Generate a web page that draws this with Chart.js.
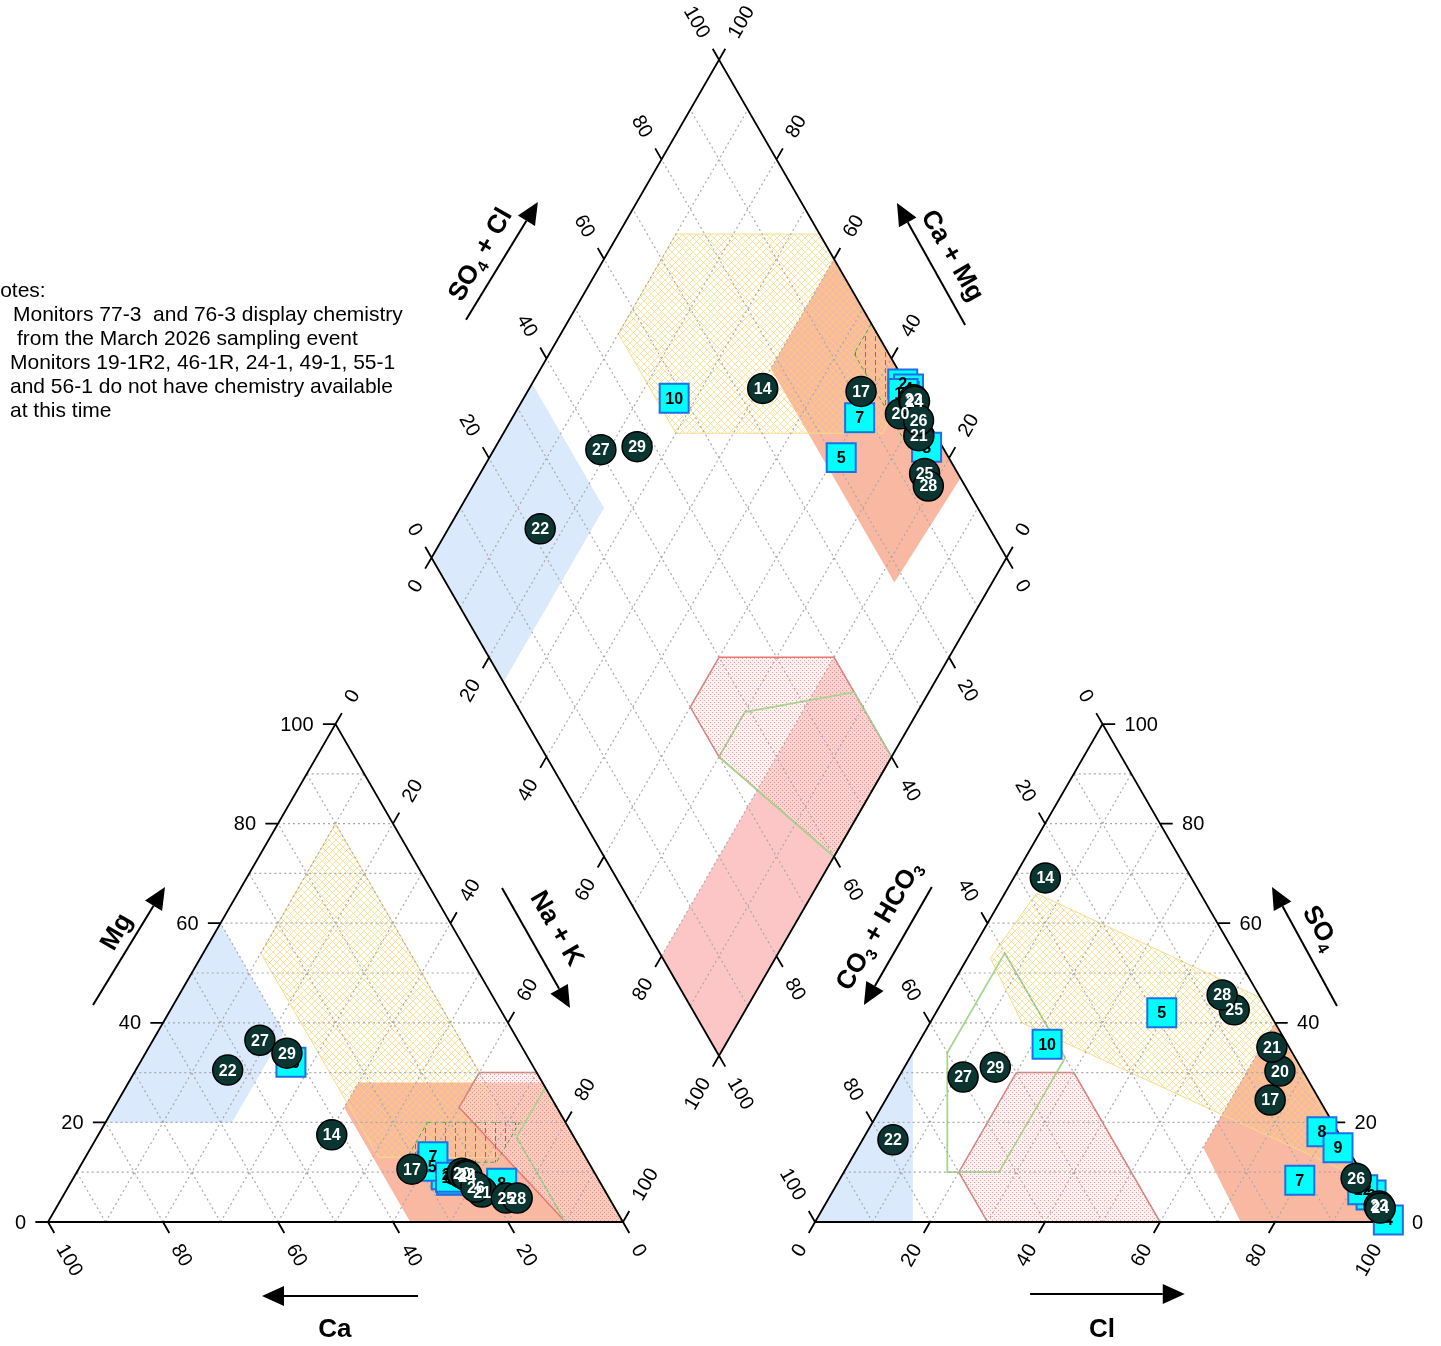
<!DOCTYPE html>
<html>
<head>
<meta charset="utf-8">
<title>Piper diagram</title>
<script src="https://cdn.jsdelivr.net/npm/chart.js@4.4.1/dist/chart.umd.min.js"></script>
<style>
  html, body { margin: 0; padding: 0; background: #fff; overflow: hidden; }
  #wrap { position: relative; width: 1441px; height: 1346px; }
  canvas { display: block; }
  #notes { position: absolute; left: -15px; top: 278px; font: 21px "Liberation Sans", Arial, sans-serif; line-height: 24px; color: #000; }
  #notes div { height: 24px; white-space: pre; }
</style>
</head>
<body>
<div id="wrap">
  <canvas id="piper" width="1441" height="1346"></canvas>
  <div id="notes"><div>Notes:</div><div style="margin-left:28px">Monitors 77-3  and 76-3 display chemistry</div><div style="margin-left:32px">from the March 2026 sampling event</div><div style="margin-left:25px">Monitors 19-1R2, 46-1R, 24-1, 49-1, 55-1</div><div style="margin-left:25px">and 56-1 do not have chemistry available</div><div style="margin-left:25px">at this time</div></div>
</div>
<script>
// ---------- sample chemistry (percent of meq/L) ----------
// square markers
const squareIds  = ['2', '4', '5', '7', '8', '9', '10', '12'];
const squareCa   = [26.0, 25.6, 27.6, 26.5, 17.2, 25.5, 41.7, 25.5];
const squareMg   = [9.5, 8.4, 11.2, 13.1, 7.8, 8.5, 32.1, 9.0];
const squareNaK  = [64.5, 66.0, 61.2, 60.4, 75.0, 66.0, 26.2, 65.5];
const squareCl   = [94.0, 99.5, 39.3, 80.1, 79.1, 83.5, 22.5, 92.0];
const squareSO4  = [5.4, 0.4, 42.0, 8.4, 18.1, 14.9, 35.7, 6.5];

// circle markers
const circleIds  = ['14', '17', '20', '21', '22', '23', '24', '25', '26', '27', '28', '29'];
const circleCa   = [41.9, 31.4, 23.1, 21.5, 53.5, 22.5, 22.5, 17.9, 22.1, 44.9, 16.0, 41.5];
const circleMg   = [17.5, 10.6, 9.8, 6.0, 30.5, 9.5, 9.2, 4.8, 7.0, 36.5, 4.8, 33.9];
const circleNaK  = [40.6, 58.0, 67.1, 72.5, 16.0, 68.0, 68.3, 77.3, 70.9, 18.6, 79.2, 24.6];
const circleCl   = [5.5, 66.9, 65.7, 61.9, 5.3, 96.5, 96.9, 51.6, 89.7, 11.2, 48.0, 15.8];
const circleSO4  = [69.1, 24.5, 30.3, 35.1, 16.5, 3.2, 2.8, 42.6, 8.8, 29.1, 45.6, 31.1];

// axis tick values
const tickValues = [0, 20, 40, 60, 80, 100];

// ---------- facies zones ----------
// cation triangle pairs: [Na+K, Mg]
const catBlueZone   = [[0, 60], [22, 38], [22, 20], [0, 20]];
const catSalmonZone = [[40, 28], [40, 23], [63, 0], [100, 0], [72, 28]];
const catYellowZone = [[10, 80], [10, 54], [51, 13], [71, 13], [65, 25]];
const catRedZone    = [[60, 30], [60, 23], [90, 0], [100, 0], [70, 30]];
const catGreenHatch = [[56, 20], [72, 20], [72, 12], [56, 12]];
const catGreenZone  = [[73, 27], [73, 17], [90, 0], [100, 0]];
// anion triangle pairs: [Cl, SO4]
const aniBlueZone   = [[0, 0], [0, 34], [17, 0]];
const aniSalmonZone = [[74, 0], [60, 15], [60, 40], [100, 0]];
const aniYellowZone = [[5.5, 66], [55, 45], [90, 9], [16, 40], [4, 53]];
const aniRedZone    = [[20, 30], [30, 30], [60, 0], [30, 0], [20, 10]];
const aniGreenZone  = [[6, 54], [6, 34], [18, 10], [27, 10], [27, 33]];
// diamond pairs: [Ca+Mg, SO4+Cl]
const diaBlueZone   = [[100, 0], [100, 35], [75, 35], [75, 0]];
const diaSalmonZone = [[60, 100], [60, 78], [17, 78], [16, 100]];
const diaYellowZone = [[90, 75], [65, 100], [35, 100], [34, 91], [70, 55], [90, 55]];
const diaPinkZone   = [[0, 0], [20, 0], [20, 60], [0, 60]];
const diaRedZone    = [[40, 40], [20, 60], [0, 60], [0, 40], [30, 30], [40, 30]];
const diaGreenZone  = [[13, 60], [30, 39], [30, 30], [0, 40], [0, 60]];
const diaGreenHatch = [[47, 100], [47, 94], [28, 94], [28, 100]];

// ---------- geometry (plot units: one triangle side = 100) ----------
const FONT = '"Liberation Sans", Arial, Helvetica, sans-serif';
const S3 = Math.sqrt(3) / 2;
const GAP = 33.4;                       // space between the two triangles
const UNIT_PX = 5.75;                   // pixels per plot unit
const ORIGIN_X = 48, ORIGIN_Y = 1222;   // pixel position of the cation triangle's Ca corner
const W = 1441, H = 1346;
const BREAK = { x: NaN, y: NaN };

const cat = (na, mg) => ({ x: na + mg / 2, y: mg * S3 });
const ani = (cl, so4) => ({ x: 100 + GAP + cl + so4 / 2, y: so4 * S3 });
const BOTTOM = { x: 100 + GAP / 2, y: GAP * S3 };
const dia = (cm, sc) => ({ x: BOTTOM.x + (sc - cm) / 2, y: BOTTOM.y + (cm + sc) * S3 });

const poly = (pairs, f) => { const p = pairs.map(q => f(q[0], q[1])); p.push(p[0]); return p; };

// ---------- fill patterns ----------
function makePattern(w, h, draw) {
  const c = document.createElement('canvas');
  c.width = w; c.height = h;
  draw(c.getContext('2d'));
  return c.getContext('2d').createPattern(c, 'repeat');
}
const yellowHatch = makePattern(7, 7, g => {
  g.strokeStyle = 'rgba(246,214,110,0.75)'; g.lineWidth = 0.9;
  g.beginPath();
  g.moveTo(-1, -1); g.lineTo(8, 8);
  g.moveTo(8, -1); g.lineTo(-1, 8);
  g.stroke();
});
const redStipple = makePattern(4, 4, g => {
  g.fillStyle = 'rgba(255,228,228,0.45)'; g.fillRect(0, 0, 4, 4);
  g.fillStyle = 'rgba(232,90,90,0.55)';
  g.fillRect(0, 0, 1, 1); g.fillRect(2, 2, 1, 1);
});
const greenHatch = makePattern(10, 8, g => {
  g.fillStyle = '#35a535'; g.fillRect(5, 0, 1, 5);
});

// ---------- line sets ----------
function triGrid(f) {
  const pts = [];
  for (let k = 10; k < 100; k += 10) {
    pts.push(f(0, k), f(100 - k, k), BREAK);
    pts.push(f(k, 0), f(k, 100 - k), BREAK);
    pts.push(f(100 - k, 0), f(0, 100 - k), BREAK);
  }
  return pts;
}
function diaGrid() {
  const pts = [];
  for (let k = 10; k < 100; k += 10) {
    pts.push(dia(k, 0), dia(k, 100), BREAK);
    pts.push(dia(0, k), dia(100, k), BREAK);
  }
  return pts;
}
const gridPts = [].concat(triGrid(cat), triGrid(ani), diaGrid());

const edgePts = [].concat(
  [cat(0, 0), cat(100, 0), cat(0, 100), cat(0, 0), BREAK],
  [ani(0, 0), ani(100, 0), ani(0, 100), ani(0, 0), BREAK],
  [dia(0, 0), dia(0, 100), dia(100, 100), dia(100, 0), dia(0, 0), BREAK]
);

// tick direction vectors (plot units, y up)
const DIR = {
  left: [-1, 0], right: [1, 0],
  upLeft: [-0.5, S3], upRight: [0.5, S3],
  downLeft: [-0.5, -S3], downRight: [0.5, -S3]
};
const axesSpec = [
  { at: v => cat(100 - v, 0), dir: 'downRight', rot: 60,  align: 'left'  },  // Ca
  { at: v => cat(0, v),       dir: 'left',      rot: 0,   align: 'right' },  // Mg
  { at: v => cat(v, 100 - v), dir: 'upRight',   rot: -60, align: 'left'  },  // Na + K
  { at: v => ani(v, 0),       dir: 'downLeft',  rot: -60, align: 'right' },  // Cl
  { at: v => ani(100 - v, v), dir: 'right',     rot: 0,   align: 'left'  },  // SO4
  { at: v => ani(0, 100 - v), dir: 'upLeft',    rot: 60,  align: 'right' },  // CO3 + HCO3
  { at: v => dia(100, v),     dir: 'upLeft',    rot: 60,  align: 'right' },  // SO4 + Cl
  { at: v => dia(v, 100),     dir: 'upRight',   rot: -60, align: 'left'  },  // Ca + Mg
  { at: v => dia(100 - v, 0), dir: 'downLeft',  rot: -60, align: 'right' },  // Na + K
  { at: v => dia(0, 100 - v), dir: 'downRight', rot: 60,  align: 'left'  }   // CO3 + HCO3
];
const TICK_LEN = 2.2;
const tickPts = [];
axesSpec.forEach(a => tickValues.forEach(v => {
  const p = a.at(v), d = DIR[a.dir];
  tickPts.push(p, { x: p.x + d[0] * TICK_LEN, y: p.y + d[1] * TICK_LEN }, BREAK);
}));

// ---------- sample marks ----------
function marks(ids, ca, mg, na, cl, so4) {
  const data = [], labels = [];
  ids.forEach((id, i) => { data.push(cat(na[i], mg[i])); labels.push(id); });
  ids.forEach((id, i) => { data.push(ani(cl[i], so4[i])); labels.push(id); });
  ids.forEach((id, i) => { data.push(dia(ca[i] + mg[i], cl[i] + so4[i])); labels.push(id); });
  return { data, labels };
}
const sq = marks(squareIds, squareCa, squareMg, squareNaK, squareCl, squareSO4);
const ci = marks(circleIds, circleCa, circleMg, circleNaK, circleCl, circleSO4);

// ---------- datasets ----------
function zone(pairs, f, fillStyle, border, width, order, dash) {
  return {
    data: poly(pairs, f), showLine: true, fill: fillStyle ? 'shape' : false,
    backgroundColor: fillStyle || 'rgba(0,0,0,0)',
    borderColor: border || 'rgba(0,0,0,0)', borderWidth: border ? width : 0.01,
    borderDash: dash || [], pointRadius: 0, tension: 0, order
  };
}
const BLUE = '#dbe9fc', SALMON = '#f9b8a1', PINK = '#fcc6c6';
const RED_LINE = '#ea7670', YEL_LINE = '#f4dc8e', GRN_LINE = '#a6d68e', GRN_DASH = '#3fae3f';

const datasets = [
  zone(catBlueZone, cat, BLUE, null, 0, 100),
  zone(aniBlueZone, ani, BLUE, null, 0, 100),
  zone(diaBlueZone, dia, BLUE, null, 0, 100),
  zone(catSalmonZone, cat, SALMON, null, 0, 99),
  zone(aniSalmonZone, ani, SALMON, null, 0, 99),
  zone(diaSalmonZone, dia, SALMON, null, 0, 99),
  zone(diaPinkZone, dia, PINK, null, 0, 98),
  zone(catYellowZone, cat, yellowHatch, YEL_LINE, 1, 97),
  zone(aniYellowZone, ani, yellowHatch, YEL_LINE, 1, 97),
  zone(diaYellowZone, dia, yellowHatch, YEL_LINE, 1, 97),
  zone(catRedZone, cat, redStipple, RED_LINE, 1.5, 96),
  zone(aniRedZone, ani, redStipple, RED_LINE, 1.5, 96),
  zone(diaRedZone, dia, redStipple, RED_LINE, 1.5, 96),
  zone(catGreenHatch, cat, greenHatch, GRN_DASH, 1, 95, [4, 3]),
  zone(diaGreenHatch, dia, greenHatch, GRN_DASH, 1, 95, [4, 3]),
  zone(catGreenZone, cat, null, GRN_LINE, 1.8, 94),
  zone(aniGreenZone, ani, null, GRN_LINE, 1.8, 94),
  zone(diaGreenZone, dia, null, GRN_LINE, 1.8, 94),
  { data: gridPts, showLine: true, fill: false, borderColor: '#a9a9a9', borderWidth: 1.2,
    borderDash: [2, 3], pointRadius: 0, spanGaps: false, order: 50 },
  { data: edgePts.concat(tickPts), showLine: true, fill: false, borderColor: '#000', borderWidth: 1.8,
    pointRadius: 0, spanGaps: false, order: 40 },
  { data: sq.data, pointLabels: sq.labels, labelColor: '#000', showLine: false,
    pointStyle: 'rect', pointRadius: 20.5, backgroundColor: '#00ffff', borderColor: '#1f6fe5',
    borderWidth: 2, order: 20 },
  { data: ci.data, pointLabels: ci.labels, labelColor: '#fff', showLine: false,
    pointStyle: 'circle', pointRadius: 15, backgroundColor: '#0b3531', borderColor: '#000',
    borderWidth: 1.5, order: 10 }
];

// ---------- plugins ----------
const pointLabels = {
  id: 'pointLabels',
  afterDatasetDraw(chart, args) {
    const ds = chart.data.datasets[args.index];
    if (!ds.pointLabels) return;
    const ctx = chart.ctx;
    ctx.save();
    ctx.font = 'bold 16px ' + FONT;
    ctx.fillStyle = ds.labelColor;
    ctx.textAlign = 'center';
    ctx.textBaseline = 'middle';
    args.meta.data.forEach((el, i) => ctx.fillText(ds.pointLabels[i], el.x, el.y + 1));
    ctx.restore();
  }
};

function richText(ctx, parts, x, y, rotDeg, size) {
  ctx.save();
  ctx.translate(x, y);
  ctx.rotate(rotDeg * Math.PI / 180);
  const big = 'bold ' + size + 'px ' + FONT, small = 'bold ' + Math.round(size * 0.6) + 'px ' + FONT;
  let w = 0;
  parts.forEach(p => { ctx.font = p.sub ? small : big; p.w = ctx.measureText(p.t).width; w += p.w; });
  let cx = -w / 2;
  ctx.textAlign = 'left';
  ctx.textBaseline = 'middle';
  parts.forEach(p => { ctx.font = p.sub ? small : big; ctx.fillText(p.t, cx, p.sub ? size * 0.32 : 0); cx += p.w; });
  ctx.restore();
}

function arrow(ctx, x1, y1, x2, y2) {
  const a = Math.atan2(y2 - y1, x2 - x1), L = 22, HW = 10;
  const bx = x2 - L * Math.cos(a), by = y2 - L * Math.sin(a);
  ctx.beginPath(); ctx.moveTo(x1, y1); ctx.lineTo(bx, by); ctx.stroke();
  ctx.beginPath();
  ctx.moveTo(x2, y2);
  ctx.lineTo(bx + HW * Math.sin(a), by - HW * Math.cos(a));
  ctx.lineTo(bx - HW * Math.sin(a), by + HW * Math.cos(a));
  ctx.closePath(); ctx.fill();
}

// axis titles and arrows, placed in plot units
const titles = [
  { parts: [{ t: 'Ca' }], at: [49.9, -18.8], rot: 0, from: [64.35, -12.87], to: [37.22, -12.87] },
  { parts: [{ t: 'Cl' }], at: [183.3, -18.8], rot: 0, from: [170.8, -12.52], to: [197.7, -12.52] },
  { parts: [{ t: 'Mg' }], at: [12.0, 50.4], rot: -60, from: [7.83, 37.74], to: [20.35, 58.26] },
  { parts: [{ t: 'Na + K' }], at: [88.4, 51.0], rot: 60, from: [78.96, 58.09], to: [90.78, 37.22] },
  { parts: [{ t: 'SO' }, { t: '4', sub: true }], at: [221.2, 51.1], rot: 60, from: [224.17, 37.57], to: [212.87, 58.26] },
  { parts: [{ t: 'CO' }, { t: '3', sub: true }, { t: ' + HCO' }, { t: '3', sub: true }], at: [144.6, 51.5], rot: -60, from: [153.7, 58.26], to: [141.9, 37.74] },
  { parts: [{ t: 'SO' }, { t: '4', sub: true }, { t: ' + Cl' }], at: [75.3, 168.2], rot: -60, from: [72.7, 156.9], to: [85.2, 177.4] },
  { parts: [{ t: 'Ca + Mg' }], at: [157.2, 168.0], rot: 60, from: [159.5, 156.0], to: [147.65, 177.2] }
];

const decorations = {
  id: 'decorations',
  afterDatasetsDraw(chart) {
    const ctx = chart.ctx, xs = chart.scales.x, ys = chart.scales.y;
    const px = p => [xs.getPixelForValue(p.x), ys.getPixelForValue(p.y)];
    ctx.save();
    ctx.fillStyle = '#000';
    ctx.strokeStyle = '#000';
    // tick labels
    ctx.font = '20px ' + FONT;
    ctx.textBaseline = 'middle';
    axesSpec.forEach(a => tickValues.forEach(v => {
      const [x, y] = px(a.at(v));
      const d = DIR[a.dir];
      const dist = a.rot === 0 ? 22 : 27;
      const lx = x + d[0] * dist, ly = y - d[1] * dist;
      ctx.save();
      ctx.translate(lx, ly);
      ctx.rotate(a.rot * Math.PI / 180);
      ctx.textAlign = a.align;
      ctx.fillText(String(v), 0, 1);
      ctx.restore();
    }));
    // titles and arrows
    ctx.lineWidth = 2;
    titles.forEach(t => {
      const [tx, ty] = px({ x: t.at[0], y: t.at[1] });
      richText(ctx, t.parts, tx, ty, t.rot, 26);
      const [x1, y1] = px({ x: t.from[0], y: t.from[1] });
      const [x2, y2] = px({ x: t.to[0], y: t.to[1] });
      arrow(ctx, x1, y1, x2, y2);
    });
    ctx.restore();
  }
};

new Chart(document.getElementById('piper'), {
  type: 'scatter',
  data: { datasets },
  options: {
    responsive: false,
    animation: false,
    devicePixelRatio: 1,
    events: [],
    layout: { padding: 0, autoPadding: false },
    plugins: { legend: { display: false }, tooltip: { enabled: false } },
    scales: {
      x: { type: 'linear', display: false, min: -ORIGIN_X / UNIT_PX, max: (W - ORIGIN_X) / UNIT_PX },
      y: { type: 'linear', display: false, min: (ORIGIN_Y - H) / UNIT_PX, max: ORIGIN_Y / UNIT_PX }
    }
  },
  plugins: [pointLabels, decorations]
});
</script>
</body>
</html>
